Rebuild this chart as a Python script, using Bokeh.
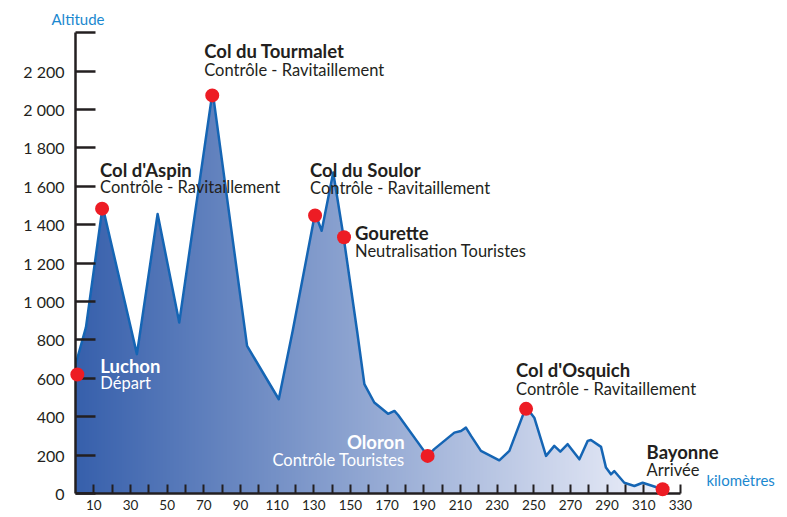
import numpy as np
from bokeh.plotting import figure
from bokeh.models import Range1d, FixedTicker, ColumnDataSource
from bokeh.embed import file_html
from bokeh.resources import INLINE
from bokeh.core.properties import value

# ---------------- data ----------------
profile_km = [0, 5.7, 14.8, 33.5, 44.8, 56.6, 74.8, 93.6, 102.3, 110.9, 118.5,
              130.7, 134.3, 140.6, 146.3, 153.6, 157.6, 163.0, 170.5, 174.0, 176.0,
              192.1, 195.7, 206.7, 210.3, 213.0, 215.8, 221.2, 231.2, 236.7, 245.8,
              250.3, 256.7, 261.2, 264.5, 268.5, 274.9, 279.4, 281.2, 286.7, 289.4,
              292.1, 293.9, 299.4, 304.9, 309.4, 314.9, 320.3]
profile_alt = [670, 865, 1495, 726, 1456, 891, 2095, 769, 629, 491, 848,
               1460, 1369, 1672, 1334, 848, 570, 474, 415, 430, 409,
               196, 231, 317, 326, 343, 300, 222, 173, 222, 451,
               395, 196, 248, 218, 257, 178, 274, 279, 243, 135,
               100, 117, 56, 39, 56, 39, 22]

stop_names = ["Luchon", "Col d'Aspin", "Col du Tourmalet", "Col du Soulor",
              "Gourette", "Oloron", "Col d'Osquich", "Bayonne"]
stop_notes = ["Départ", "Contrôle - Ravitaillement", "Contrôle - Ravitaillement",
              "Contrôle - Ravitaillement", "Neutralisation Touristes",
              "Contrôle Touristes", "Contrôle - Ravitaillement", "Arrivée"]
stop_km = [1, 14.5, 74.6, 130.7, 146.5, 192.1, 245.8, 320.3]
stop_alt = [620, 1484, 2074, 1448, 1335, 196, 441, 22]

x_tick_values = [10, 30, 50, 70, 90, 110, 130, 150, 170, 190, 210, 230, 250,
                 270, 290, 310, 330]
x_minor_values = [20, 40, 60, 80, 100, 120, 140, 160, 180, 200, 220, 240,
                  260, 280, 300, 320]
y_tick_values = [0, 200, 400, 600, 800, 1000, 1200, 1400, 1600, 1800, 2000, 2200]
y_tick_labels = ["0", "200", "400", "600", "800", "1 000", "1 200", "1 400",
                 "1 600", "1 800", "2 000", "2 200"]
y_axis_top = 2400
x_axis_end = 330
y_title = "Altitude"
x_title = "kilomètres"

# ---------------- layout / style ----------------
W, H = 787, 517
LEFT, RIGHT, TOP, BOTTOM = 75, 0, 30, 24
PX_PER_KM = 1.833
PX_PER_M = (H - BOTTOM - 32.3) / y_axis_top
x_end = (W - LEFT - RIGHT) / PX_PER_KM
y_end = (H - BOTTOM - TOP) / PX_PER_M

INK = "#231f20"
BLUE_TXT = "#1b88cf"
LINE = "#1565b4"
RED = "#ed1c24"
FONT = "Lato"
NAME_FS, NOTE_FS = 18.5, 16.5
BASE_FIX = 0.47   # empirical baseline correction (fraction of font size)

# label offsets (px) per stop: dx, name baseline dy, note baseline dy, align, colour
offsets = {
    "Luchon": (23, 0, 16, "left", "white"),
    "Col d'Aspin": (-2, -30, -13.5, "left", INK),
    "Col du Tourmalet": (-8, -36, -18, "left", INK),
    "Col du Soulor": (-5, -37, -20, "left", INK),
    "Gourette": (11, 4, 21.5, "left", INK),
    "Oloron": (-23, -5, 11.5, "right", "white"),
    "Col d'Osquich": (-10, -30, -12, "left", INK),
    "Bayonne": (-16, -29, -11.5, "left", INK),
}

p = figure(width=W, height=H, output_backend="svg", toolbar_location=None,
           title=y_title,
           x_range=Range1d(0, x_end), y_range=Range1d(0, y_end),
           min_border_left=LEFT, min_border_right=RIGHT, min_border_top=TOP,
           min_border_bottom=BOTTOM)
p.grid.visible = False
p.outline_line_color = None
p.background_fill_color = "white"
p.border_fill_color = "white"

p.title.align = "left"
p.title.offset = -24
p.title.standoff = 5
p.title.text_font = FONT
p.title.text_font_style = "normal"
p.title.text_font_size = "15px"
p.title.text_color = BLUE_TXT

# gradient fill under the profile
left_rgb = np.array([55, 96, 172], dtype=float)
right_rgb = np.array([238, 240, 250], dtype=float)
n = 400
t = np.linspace(0, 1, n)[:, None]
cols = (left_rgb * (1 - t) + right_rgb * t).astype(np.uint8)
img = np.empty((2, n), dtype=np.uint32)
view = img.view(dtype=np.uint8).reshape((2, n, 4))
for r in range(2):
    view[r, :, 0] = cols[:, 0]
    view[r, :, 1] = cols[:, 1]
    view[r, :, 2] = cols[:, 2]
    view[r, :, 3] = 255
top_m = 2200
p.image_rgba(image=[img], x=0, y=0, dw=profile_km[-1], dh=top_m)

# white mask above the profile
mask_x = [0] + profile_km + [profile_km[-1], 0]
mask_y = [top_m] + profile_alt + [top_m + 10, top_m + 10]
p.patch(mask_x, mask_y, fill_color="white", line_color="white", line_width=1)

p.line(profile_km, profile_alt, line_color=LINE, line_width=2.5, line_join="round")

src = ColumnDataSource(dict(
    x=stop_km, y=stop_alt, name=stop_names, note=stop_notes,
    dx=[offsets[s][0] for s in stop_names],
    ndy=[offsets[s][1] - BASE_FIX * NAME_FS for s in stop_names],
    tdy=[offsets[s][2] - BASE_FIX * NOTE_FS for s in stop_names],
    align=[offsets[s][3] for s in stop_names],
    color=[offsets[s][4] for s in stop_names],
))

p.scatter(x="x", y="y", source=src, size=14, fill_color=RED, line_color=None,
          level="overlay")
p.text(x="x", y="y", text="name", source=src, x_offset="dx", y_offset="ndy",
       text_align="align", text_baseline="alphabetic", text_color="color",
       text_font=value(FONT), text_font_style="bold",
       text_font_size=f"{NAME_FS}px", level="overlay")
p.text(x="x", y="y", text="note", source=src, x_offset="dx", y_offset="tdy",
       text_align="align", text_baseline="alphabetic", text_color="color",
       text_font=value(FONT), text_font_size=f"{NOTE_FS}px", level="overlay")

# "kilomètres" beside the end of the x axis
p.text(x=[x_axis_end], y=[0], text=[x_title], x_offset=26,
       y_offset=-6.5 - BASE_FIX * 15, text_align="left", text_baseline="alphabetic",
       text_color=BLUE_TXT, text_font=value(FONT), text_font_size="15px",
       level="overlay")

# axes
xa = p.xaxis[0]
xa.bounds = (0, x_axis_end)
xa.ticker = FixedTicker(ticks=x_tick_values, minor_ticks=x_minor_values)
xa.major_tick_in = 9
xa.major_tick_out = 0
xa.minor_tick_in = 9
xa.minor_tick_out = 0
xa.axis_line_width = 2.5
xa.axis_line_color = INK
xa.major_tick_line_color = INK
xa.minor_tick_line_color = INK
xa.major_tick_line_width = 2
xa.minor_tick_line_width = 2
xa.major_label_standoff = 6
xa.major_label_text_font = FONT
xa.major_label_text_font_size = "13.5px"
xa.major_label_text_color = INK

ya = p.yaxis[0]
ya.bounds = (0, y_axis_top)
ya.ticker = FixedTicker(ticks=y_tick_values, minor_ticks=[y_axis_top])
ya.major_label_overrides = dict(zip(y_tick_values, y_tick_labels))
ya.major_tick_in = 20
ya.major_tick_out = 0
ya.minor_tick_in = 20
ya.minor_tick_out = 0
ya.axis_line_width = 2.5
ya.axis_line_color = INK
ya.major_tick_line_color = INK
ya.minor_tick_line_color = INK
ya.major_tick_line_width = 2.5
ya.minor_tick_line_width = 2.5
ya.major_label_standoff = 11
ya.major_label_text_font = FONT
ya.major_label_text_font_size = "16px"
ya.major_label_text_color = INK
ya.major_label_text_baseline = "alphabetic"

open("out.html", "w").write(file_html(p, INLINE))
